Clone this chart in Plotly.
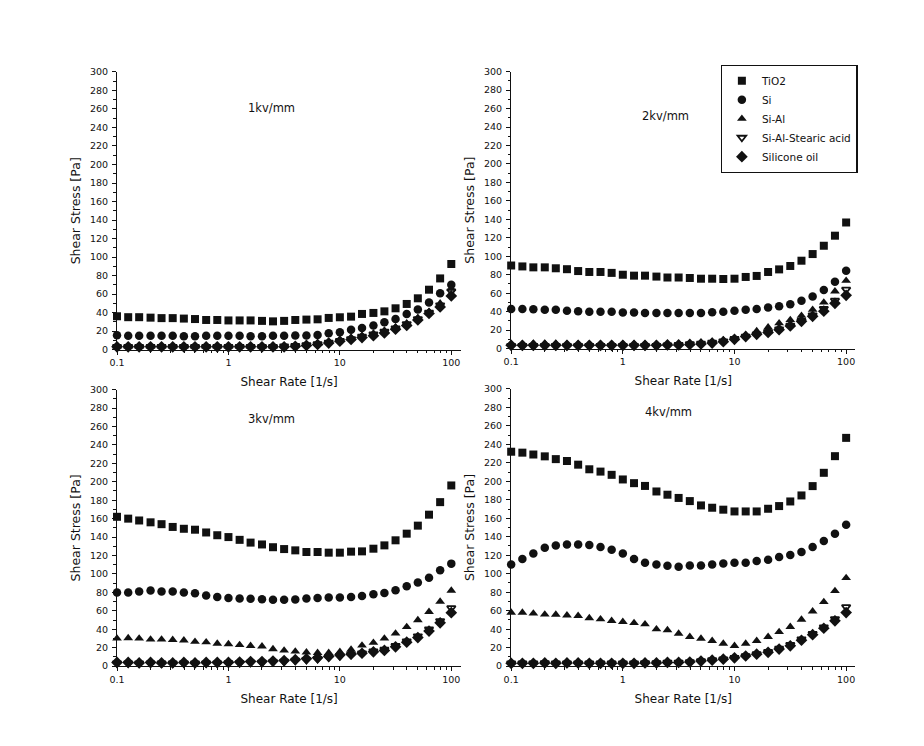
import plotly.graph_objects as go

# Shear rate values [1/s] (10 points per decade)
shear_rate = [0.1, 0.126, 0.158, 0.2, 0.251, 0.316, 0.398, 0.501, 0.631, 0.794,
              1, 1.26, 1.58, 2, 2.51, 3.16, 3.98, 5.01, 6.31, 7.94,
              10, 12.6, 15.8, 20, 25.1, 31.6, 39.8, 50.1, 63.1, 79.4, 100]

series_names = ["TiO2", "Si", "Si-Al", "Si-Al-Stearic acid", "Silicone oil"]
panel_titles = ["1kv/mm", "2kv/mm", "3kv/mm", "4kv/mm"]

# ---- 1 kV/mm ----
tio2_1 = [36, 35, 35, 34.5, 34, 34, 33.5, 33, 32, 32, 31.5, 31.5, 31.5, 31, 30.5, 31,
          32, 32.4, 32.7, 34.2, 34.9, 35.6, 38.5, 39.6, 41.3, 44.6, 49.3, 55.4, 64.7, 76.9, 92.5]
si_1 = [15.5, 15, 15, 15, 15, 15, 14.5, 14.5, 15, 15, 15, 15, 14.5, 14.5, 15, 15,
        15.1, 15.1, 15.8, 17.6, 18.7, 21.3, 23.4, 25.9, 29.5, 33.1, 38.5, 43.2, 51, 60.8, 70]
sial_1 = [3.5, 3.5, 3.5, 3.5, 3.5, 3.5, 3.5, 3.5, 3.5, 3.5, 3.5, 3.5, 3.5, 3.5, 3.5, 4,
          4.5, 5.5, 7, 8.5, 10.5, 12.5, 15, 17.5, 20.5, 24, 28.5, 34, 41, 50, 66]
sa_1 = [3, 3, 3, 3, 3, 3, 3, 3, 3, 3, 3, 3, 3, 3, 3, 3.5,
        4, 5, 6, 7.5, 9.5, 11.5, 14, 16.5, 19.5, 23, 27.5, 33, 40, 48, 63]
oil_1 = [3, 3, 3, 3, 3, 3, 3, 3, 3, 3, 3, 3, 3, 3, 3, 3,
         3.5, 4.5, 5.5, 7, 9, 11, 13, 15, 18, 22, 26, 32, 39, 46, 58]

# ---- 2 kV/mm ----
tio2_2 = [90, 89, 88, 88, 87, 86, 84, 83, 83, 82, 80, 79, 79, 78, 77, 77,
          76.5, 75.7, 75.7, 75.4, 75.7, 77.6, 78.7, 83, 85.8, 89.5, 95.2, 102.4, 111.4, 122.3, 136.6]
si_2 = [43, 43, 42.5, 42, 42, 41, 40.5, 40, 40, 40, 39, 39, 38.5, 38.5, 38.5, 38.5,
        38.6, 38.6, 39.3, 40, 41.1, 42.2, 42.9, 44.4, 45.8, 47.9, 51.9, 56.3, 63.5, 72.5, 84.4]
sial_2 = [5, 5, 5.5, 5.5, 5.5, 5, 5, 5, 5, 5, 5, 5, 5, 5, 5, 5,
          5.5, 6.5, 7.5, 9, 11, 15, 19, 23, 27.5, 31, 35.7, 42.2, 50, 62, 73.6]
sa_2 = [3, 3, 3, 3, 3, 3, 3, 3, 3, 3, 3, 3, 3, 3, 3.5, 4,
        5, 5.4, 6.5, 8, 10.5, 13, 15.5, 18, 21, 25, 30, 36, 43, 52, 64]
oil_2 = [3.5, 3.5, 3.5, 3.5, 3.5, 3.5, 3.5, 3.5, 3.5, 3.5, 3.5, 3.5, 3.5, 3.5, 4, 4,
         4.5, 5, 6, 7.5, 10, 13, 15.5, 17.5, 20.5, 24.5, 29.5, 35, 40.5, 49, 57.7]

# ---- 3 kV/mm ----
tio2_3 = [162, 160, 158, 156, 154, 151, 149, 148, 145, 142, 140, 137, 134, 132, 129, 127,
          125.6, 123.8, 123.8, 123.1, 123.1, 124.2, 124.5, 127.4, 131, 136.5, 143.7, 152.4, 164.3, 177.9, 196]
si_3 = [80, 80, 81, 82, 81, 81, 80, 79, 76.5, 75, 74, 73.5, 73, 72.5, 72, 72,
        72.2, 73.3, 74, 74.4, 74.4, 75.1, 76.2, 78, 79.4, 82.3, 86.6, 90.6, 96, 104, 111.2]
sial_3 = [30, 30.5, 30, 29, 29, 28.5, 28, 26.5, 26, 24.5, 24, 23, 22, 21.5, 18.5, 17,
          16, 15, 14.5, 14.5, 15.5, 18, 22.5, 25.5, 30, 35.5, 42.5, 50, 59, 70, 82]
sa_3 = [3, 3, 3, 3, 3, 3, 3, 3, 3, 3, 3.5, 3.5, 4, 4, 4.5, 5,
        6, 7, 8, 9.5, 11, 12.5, 14, 16, 18, 22, 27, 32.5, 40, 49, 63]
oil_3 = [4, 4, 3.5, 4, 3.5, 3.5, 4, 3.5, 4, 4, 4, 4.5, 5, 5, 5.5, 6,
         7, 8, 9, 10.5, 12, 13, 14, 15.5, 17, 21, 26, 31, 38, 47, 58]

# ---- 4 kV/mm ----
tio2_4 = [232, 231, 229, 227, 224, 222, 218, 213, 210.5, 207, 202, 198, 195, 189, 185.5, 182,
          178.6, 173.9, 171.4, 169.3, 167.4, 167.4, 167.4, 170.3, 173.2, 178.2, 184.7, 194.8, 209.2, 227.2, 247]
si_4 = [110, 116, 122, 128, 130.5, 131.5, 131.5, 131, 129, 126, 122, 116, 112, 110, 108.5, 107.5,
        109, 109, 110, 111, 112, 112, 113.8, 115.2, 118, 120.3, 123.5, 128.9, 135.4, 143.3, 153]
sial_4 = [58, 58, 57, 56, 55.8, 55, 54.4, 52, 50.8, 49, 48, 46.8, 45.4, 40, 39, 35.3,
          31.7, 29.9, 27.4, 24.5, 22, 24.5, 27.4, 31.7, 37, 42.5, 50.4, 59.4, 69.5, 81.4, 95.4]
sa_4 = [3, 3, 3, 3.5, 3, 3, 3, 3, 3, 3, 3, 3, 3.5, 3.5, 4, 4,
        4.5, 5.5, 6.5, 7.5, 9, 11, 13, 15.5, 19, 23, 29, 35, 42, 51, 64]
oil_4 = [3, 3, 3, 3.5, 3, 3.5, 3.5, 3, 3, 3, 3, 3, 3.5, 3.5, 4, 4,
         4.5, 5.5, 6.5, 7.5, 9, 11, 13, 15, 18.5, 22, 28, 34, 41, 49, 58]

x_tick_vals = [0.1, 1, 10, 100]
x_tick_text = ["0.1", "1", "10", "100"]
x_minor_vals = [0.2, 0.3, 0.4, 0.5, 0.6, 0.7, 0.8, 0.9,
                2, 3, 4, 5, 6, 7, 8, 9,
                20, 30, 40, 50, 60, 70, 80, 90]

panels = [
    [tio2_1, si_1, sial_1, sa_1, oil_1],
    [tio2_2, si_2, sial_2, sa_2, oil_2],
    [tio2_3, si_3, sial_3, sa_3, oil_3],
    [tio2_4, si_4, sial_4, sa_4, oil_4],
]

symbols = ["square", "circle", "triangle-up", "triangle-down-open", "diamond"]
sizes = [8, 8.5, 8.5, 7.5, 9]

W, H = 924, 746
x_domains = [[0.11028, 0.48604], [0.54058, 0.91634], [0.11028, 0.48604], [0.54058, 0.91634]]
y_domains = [[0.54343, 0.92113], [0.54477, 0.92158], [0.11273, 0.48901], [0.11273, 0.48995]]
x_log_range = [[-1, 2.089], [-1, 2.0826], [-1, 2.089], [-1, 2.0826]]
title_pos = [(0.449, 0.870), (0.449, 0.840), (0.449, 0.895), (0.458, 0.918)]

FONT = "DejaVu Sans, Liberation Sans, Arial, sans-serif"
fig = go.Figure()

layout = dict(
    width=W, height=H,
    paper_bgcolor="white", plot_bgcolor="white",
    margin=dict(l=0, r=0, t=0, b=0),
    font=dict(family=FONT, size=10, color="#111111"),
    showlegend=True,
    legend=dict(
        x=0.7693, y=0.9307, xanchor="left", yanchor="top",
        bordercolor="#111111", borderwidth=1.2, bgcolor="white",
        font=dict(family=FONT, size=10.5, color="#111111"),
        tracegroupgap=0, itemwidth=30,
    ),
    annotations=[],
)

for p in range(4):
    n = p + 1
    xa = "xaxis" if n == 1 else f"xaxis{n}"
    ya = "yaxis" if n == 1 else f"yaxis{n}"
    xref = "x" if n == 1 else f"x{n}"
    yref = "y" if n == 1 else f"y{n}"
    layout[xa] = dict(
        domain=x_domains[p], anchor=yref, type="log", range=x_log_range[p],
        showline=True, linecolor="#111111", linewidth=1.2, mirror=False,
        ticks="outside", ticklen=4, tickwidth=1.2, tickcolor="#111111",
        tickmode="array", tickvals=x_tick_vals, ticktext=x_tick_text,
        tickfont=dict(size=9.5),
        minor=dict(tickmode="array", tickvals=x_minor_vals, ticks="outside",
                   ticklen=2.5, tickwidth=1, tickcolor="#111111", showgrid=False),
        showgrid=False, zeroline=False,
        title=dict(text="Shear Rate [1/s]", font=dict(size=12), standoff=10),
    )
    layout[ya] = dict(
        domain=y_domains[p], anchor=xref, range=[0, 300],
        showline=True, linecolor="#111111", linewidth=1.2,
        ticks="outside", ticklen=4, tickwidth=1.2, tickcolor="#111111",
        tick0=0, dtick=20, tickfont=dict(size=9.5), ticklabelstandoff=2,
        minor=dict(dtick=10, ticks="outside", ticklen=2.5, tickwidth=1,
                   tickcolor="#111111", showgrid=False),
        showgrid=False, zeroline=False,
        title=dict(text="Shear Stress [Pa]", font=dict(size=12.5), standoff=6),
    )
    tx, ty = title_pos[p]
    layout["annotations"].append(dict(
        text=panel_titles[p], xref=f"{xref} domain", yref=f"{yref} domain",
        x=tx, y=ty, xanchor="center", yanchor="middle", showarrow=False,
        font=dict(size=11.5, family=FONT, color="#111111"),
    ))
    for s in range(5):
        fig.add_trace(go.Scatter(
            x=shear_rate, y=panels[p][s], mode="markers",
            name=series_names[s], legendgroup=series_names[s],
            showlegend=(p == 1),
            marker=dict(symbol=symbols[s], size=sizes[s], color="#111111",
                        line=dict(color="#111111", width=1.8 if s == 3 else 0)),
            xaxis=xref, yaxis=yref, cliponaxis=False,
        ))

fig.update_layout(**layout)
fig.write_html("out.html")
